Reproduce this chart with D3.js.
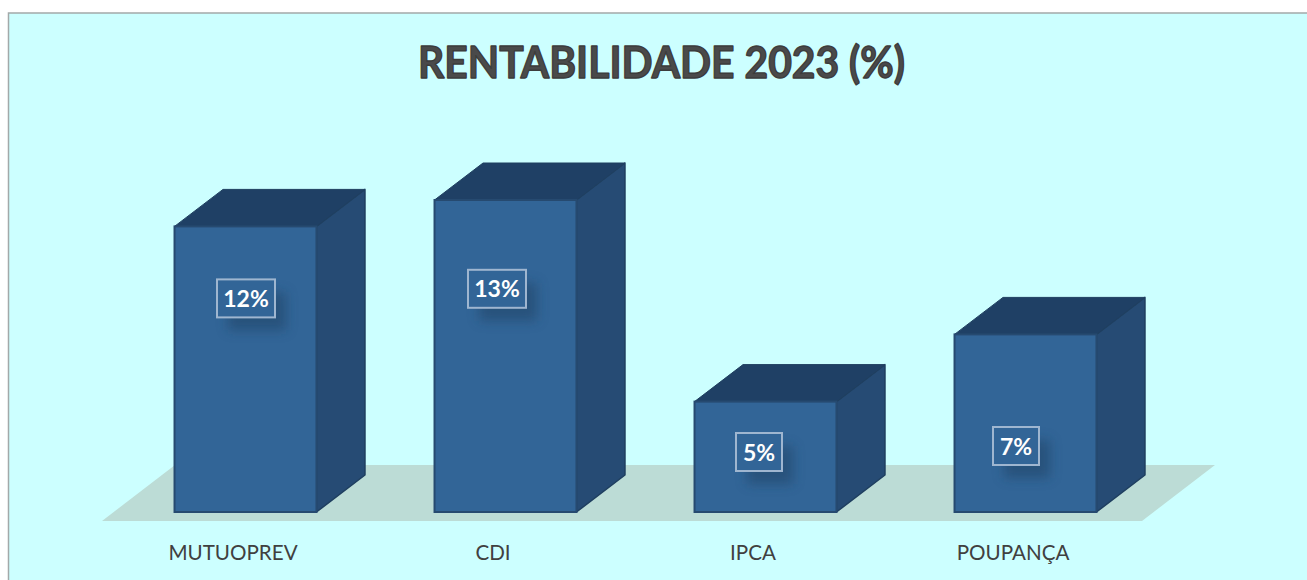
<!DOCTYPE html>
<html><head><meta charset="utf-8">
<script src="https://cdn.jsdelivr.net/npm/d3@7"></script>
<style>html,body{margin:0;padding:0;background:#fff;overflow:hidden}svg{display:block}</style>
</head><body><div id="c"></div>
<script>
const categories=["MUTUOPREV","CDI","IPCA","POUPANÇA"];
const values=[11.9,13.0,4.6,7.4];
const labelLevels=[8.9,9.3,2.5,2.75];
const titleText="RENTABILIDADE 2023 (%)";

const W=1307,H=580;
const labelNudge=[0.5,-8.5,-6.5,-9.5];
const svg=d3.select("#c").append("svg").attr("width",W).attr("height",H);
const defs=svg.append("defs");
const f=defs.append("filter").attr("id","sh").attr("x","-50%").attr("y","-50%").attr("width","200%").attr("height","200%");
f.append("feGaussianBlur").attr("stdDeviation",6);
const fb=defs.append("filter").attr("id","soft").attr("x","-5%").attr("y","-5%").attr("width","110%").attr("height","110%");
fb.append("feGaussianBlur").attr("stdDeviation",0.5);

svg.append("rect").attr("x",8.5).attr("y",13).attr("width",W).attr("height",H)
  .attr("fill","#ccffff").attr("stroke","#a3a9a9").attr("stroke-width",1.5);

const floorFront=521,floorBack=465,floorSkew=73,barDepthX=48.5,barDepthY=37;
const xLab=d3.scaleBand().domain(categories).range([103,1143]);
const x=d3.scaleBand().domain(categories).range([115.5,1155.5]).paddingInner(0.454).paddingOuter(0.227);
const y=d3.scaleLinear().domain([0,13]).range([512,200]);

svg.append("path").attr("fill","#bcdcd6").attr("filter","url(#soft)")
 .attr("d",d3.line()([[x.range()[0]-13.5,floorFront],[x.range()[1]-13.5,floorFront],[x.range()[1]-13.5+floorSkew,floorBack],[x.range()[0]-13.5+floorSkew,floorBack]])+"Z");

const g=svg.append("g").selectAll("g").data(categories).join("g");
const val=i=>values[i];
g.each(function(c,i){
  const s=d3.select(this),x0=x(c),x1=x0+x.bandwidth(),yt=y(val(i)),yb=y(0),dx=barDepthX,dy=barDepthY;
  const line=d3.line();
  s.append("path").attr("d",line([[x1,yt],[x1+dx,yt-dy],[x1+dx,yb-dy],[x1,yb]])+"Z").attr("fill","#264b74").attr("stroke","#1f3f60").attr("stroke-width",1.5).attr("stroke-linejoin","round");
  s.append("path").attr("d",line([[x0,yt],[x0+dx,yt-dy],[x1+dx,yt-dy],[x1,yt]])+"Z").attr("fill","#1f4065").attr("stroke","#1f3f60").attr("stroke-width",1).attr("stroke-linejoin","round");
  s.append("rect").attr("x",x0).attr("y",yt).attr("width",x.bandwidth()).attr("height",yb-yt).attr("fill","#326597").attr("stroke","#264a70").attr("stroke-width",2);
  const cx=(x0+x1)/2+labelNudge[i],cy=y(labelLevels[i]),txt=d3.format(".0f")(val(i))+"%";
  const bw=txt.length>2?58:46,bh=38;
  s.append("rect").attr("x",cx-bw/2+11).attr("y",cy-bh/2+13).attr("width",bw).attr("height",bh).attr("fill","#1f3f60").attr("opacity",.5).attr("filter","url(#sh)");
  s.append("rect").attr("x",cx-bw/2).attr("y",cy-bh/2).attr("width",bw).attr("height",bh).attr("fill","#326597").attr("stroke","#9fb6d0").attr("stroke-width",2);
  s.append("text").attr("x",cx).attr("y",cy+8.5).attr("text-anchor","middle").attr("fill","#fff").attr("font-family","Lato").attr("font-weight",700).attr("font-size",23).text(txt);
});

const ax=svg.append("g").attr("transform","translate(0,544)").call(d3.axisBottom(xLab).tickSize(0).tickPadding(0));
ax.select(".domain").remove();
ax.selectAll("text").attr("font-family","Lato").attr("font-size",20.6).attr("fill","#404040").attr("dy",0).attr("y",16);

svg.append("text").attr("x",661.5).attr("y",78).attr("text-anchor","middle").attr("font-family","Lato").attr("font-weight",700).attr("font-size",44).attr("textLength",487).attr("lengthAdjust","spacingAndGlyphs").attr("fill","#4a4a4a").attr("stroke","#3c3c3c").attr("stroke-width",1.4).attr("stroke-linejoin","round").text(titleText);
</script></body></html>
